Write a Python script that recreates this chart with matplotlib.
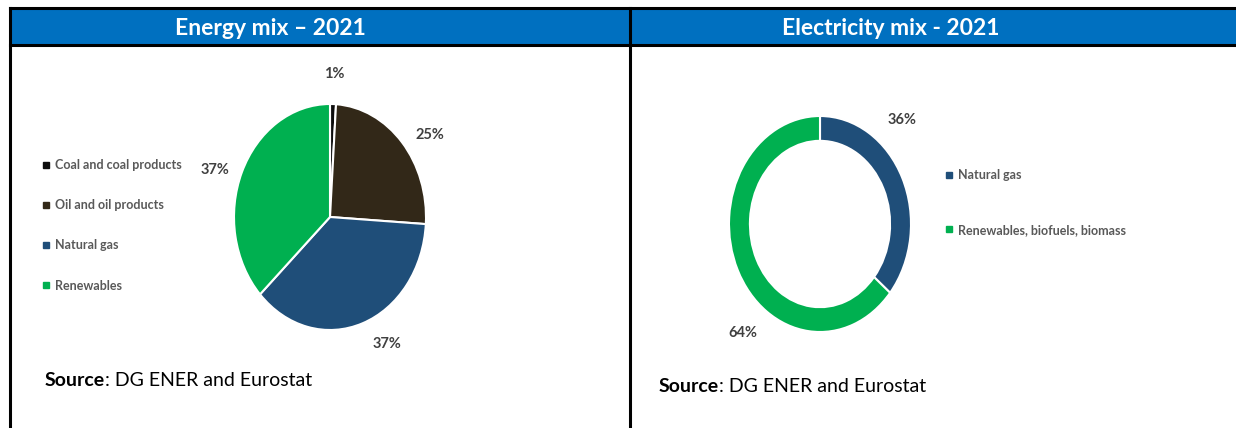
import numpy as np
import matplotlib
matplotlib.use("Agg")
import matplotlib.pyplot as plt
from matplotlib.patches import Rectangle
from matplotlib.lines import Line2D

plt.rcParams['font.family'] = ['Lato', 'DejaVu Sans']

# data
energy_labels = ["Coal and coal products", "Oil and oil products", "Natural gas", "Renewables"]
energy_values = [1, 25, 37, 37]
energy_colors = ["#0d0d0d", "#322818", "#1f4e79", "#00b050"]

elec_labels = ["Natural gas", "Renewables, biofuels, biomass"]
elec_values = [36, 64]
elec_colors = ["#1f4e79", "#00b050"]

W, H = 1236, 428
fig = plt.figure(figsize=(W / 100, H / 100), dpi=100)

# frame / header drawn in pixel coords
bg = fig.add_axes([0, 0, 1, 1])
bg.set_xlim(0, W)
bg.set_ylim(H, 0)
bg.axis("off")
bg.add_patch(Rectangle((10, 8), W, 37, facecolor="#0070c0", edgecolor="none"))
for y in (8, 45):
    bg.plot([10, W], [y, y], color="black", lw=2.2)
for x in (10, 630):
    bg.plot([x, x], [8, H], color="black", lw=2.2)
bg.text(270, 28, "Energy mix – 2021", color="white", fontsize=16.5, fontweight="bold",
        ha="center", va="center")
bg.text(891, 28, "Electricity mix - 2021", color="white", fontsize=16.5, fontweight="bold",
        ha="center", va="center")
for x, y in ((45, 381), (659, 386)):
    t = bg.text(x, y, "Source", fontsize=14, fontweight="bold", color="black", va="center")
    bg.annotate(": DG ENER and Eurostat", xycoords=t, xy=(1, 0.5), va="center",
                fontsize=14, color="black")


def pie_axes(cx, cy, rx, ry, pad=1.6):
    # elliptical pie: axes box scaled in pixels, aspect auto
    w, h = 2 * rx * pad, 2 * ry * pad
    ax = fig.add_axes([(cx - w / 2) / W, 1 - (cy + h / 2) / H, w / W, h / H])
    return ax


def place_labels(ax, texts, angles, r):
    for t, a in zip(texts, angles):
        t.set_position((r * np.cos(np.radians(a)), r * np.sin(np.radians(a))))


# Energy mix pie
ax1 = pie_axes(330, 217, 96, 113)
w1, _, at1 = ax1.pie(energy_values, colors=energy_colors, startangle=90, counterclock=False,
                     autopct=lambda p: f"{p:.0f}%", pctdistance=1.27,
                     wedgeprops=dict(edgecolor="white", linewidth=1.5),
                     textprops=dict(fontsize=10.5, fontweight="bold", color="#404040"))
ax1.set_aspect("auto")
ax1.set_xlim(-1.6, 1.6)
ax1.set_ylim(-1.6, 1.6)
place_labels(ax1, at1, [88, 35, -62, 161], 1.27)

h1 = [Line2D([], [], marker="s", ls="none", color=c, markersize=4.5) for c in energy_colors]
fig.legend(h1, energy_labels, loc="upper left", bbox_to_anchor=(31 / W, 1 - 148 / H),
           frameon=False, handlelength=0.6, handletextpad=0.45, labelspacing=2.25,
           prop=dict(size=9, weight="bold"), labelcolor="#595959")

# Electricity mix donut
ax2 = pie_axes(820, 224, 91, 108)
w2, _, at2 = ax2.pie(elec_values, colors=elec_colors, startangle=90, counterclock=False,
                     autopct=lambda p: f"{p:.0f}%", pctdistance=1.32,
                     wedgeprops=dict(width=0.23, edgecolor="white", linewidth=1.5),
                     textprops=dict(fontsize=10.5, fontweight="bold", color="#404040"))
ax2.set_aspect("auto")
ax2.set_xlim(-1.6, 1.6)
ax2.set_ylim(-1.6, 1.6)
place_labels(ax2, at2, [47, -130], 1.32)

h2 = [Line2D([], [], marker="s", ls="none", color=c, markersize=4.5) for c in elec_colors]
fig.legend(h2, elec_labels, loc="upper left", bbox_to_anchor=(934 / W, 1 - 158 / H),
           frameon=False, handlelength=0.6, handletextpad=0.45, labelspacing=3.4,
           prop=dict(size=9, weight="bold"), labelcolor="#595959")

fig.savefig("out.png", dpi=100)
